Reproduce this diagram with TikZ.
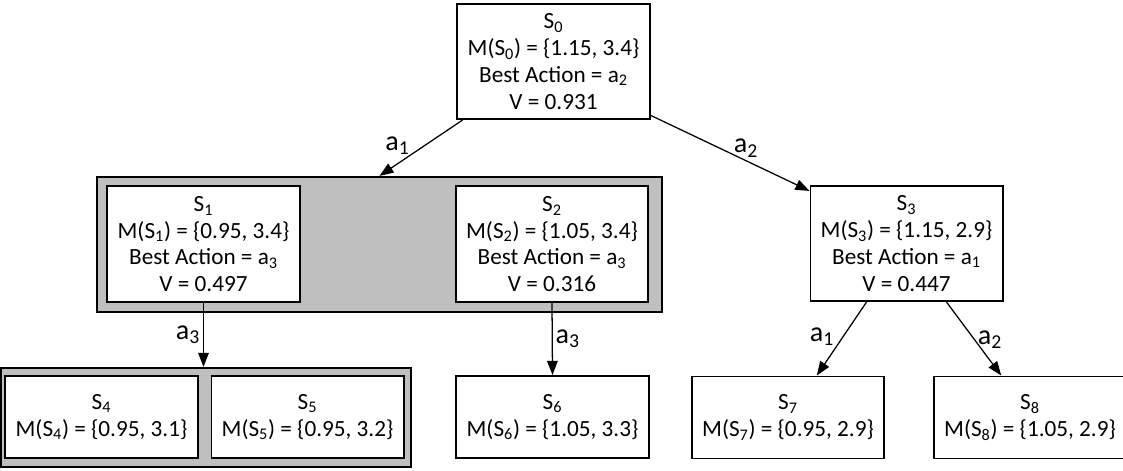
\documentclass[tikz,border=0pt]{standalone}
\usepackage{fontspec}
\setmainfont{Carlito}
\usetikzlibrary{arrows.meta, positioning}
\newcommand{\sid}[1]{S\textsubscript{#1}}
\newcommand{\actn}[1]{a\textsubscript{#1}}

\begin{document}
\begin{tikzpicture}[
        x=0.025cm, y=-0.025cm,
        every node/.style={font=\fontsize{16.5}{19}\selectfont},
        state/.style={rectangle, draw, line width=1.4pt, fill=white, minimum width=4.8cm, align=center, inner sep=2pt},
        full/.style={state, minimum height=2.88cm},
        leaf/.style={state, minimum height=2.05cm},
        group/.style={rectangle, draw, line width=1.4pt, fill=black!25},
        arrow/.style={-{Triangle[length=10pt, width=7.5pt]}, line width=0.9pt},
        act/.style={font=\fontsize{20}{24}\selectfont, inner sep=2pt}
    ]
        \useasboundingbox (0,0) rectangle (1123,471);

        % Groups
        \node[group, minimum width=14.12cm, minimum height=3.38cm] (grp1) at (379.5,244.5) {};
        \node[group, minimum width=10.25cm, minimum height=2.48cm] (grp2) at (206,417.5) {};

        % Nodes
        \node[full] (S0) at (553.5,61.5) {\sid{0}\\M(\sid{0}) = \{1.15, 3.4\}\\Best Action = \actn{2}\\V = 0.931};
        \node[full] (S1) at (203.5,244) {\sid{1}\\M(\sid{1}) = \{0.95, 3.4\}\\Best Action = \actn{3}\\V = 0.497};
        \node[full] (S2) at (552,244) {\sid{2}\\M(\sid{2}) = \{1.05, 3.4\}\\Best Action = \actn{3}\\V = 0.316};
        \node[full] (S3) at (906.5,243.5) {\sid{3}\\M(\sid{3}) = \{1.15, 2.9\}\\Best Action = \actn{1}\\V = 0.447};
        \node[leaf] (S4) at (101.5,417) {\sid{4}\\M(\sid{4}) = \{0.95, 3.1\}};
        \node[leaf, right=0.3cm of S4] (S5) {\sid{5}\\M(\sid{5}) = \{0.95, 3.2\}};
        \node[leaf] (S6) at (552.5,417) {\sid{6}\\M(\sid{6}) = \{1.05, 3.3\}};
        \node[leaf] (S7) at (788,417.5) {\sid{7}\\M(\sid{7}) = \{0.95, 2.9\}};
        \node[leaf, right=1.2cm of S7] (S8) {\sid{8}\\M(\sid{8}) = \{1.05, 2.9\}};

        % Arrows
        \draw[arrow] ([xshift=0.15cm]S0.south west) -- node[pos=0.46, left=8pt, act] {\actn{1}} (grp1.north);
        \draw[arrow] ([yshift=0.12cm]S0.south east) -- node[pos=0.6, above, act] {\actn{2}} ([yshift=-0.15cm]S3.north west);
        \draw[arrow] (S1.south) -- node[midway, left, act] {\actn{3}} (S1.south |- grp2.north);
        \draw[arrow] (S2.south) -- node[midway, right, act] {\actn{3}} (S6.north);
        \draw[arrow] ([xshift=-1cm]S3.south) -- node[pos=0.47, left=4pt, act] {\actn{1}} ([xshift=0.72cm]S7.north);
        \draw[arrow] ([xshift=1cm]S3.south) -- node[pos=0.51, right, act] {\actn{2}} ([xshift=-0.72cm]S8.north);
    \end{tikzpicture}
\end{document}
